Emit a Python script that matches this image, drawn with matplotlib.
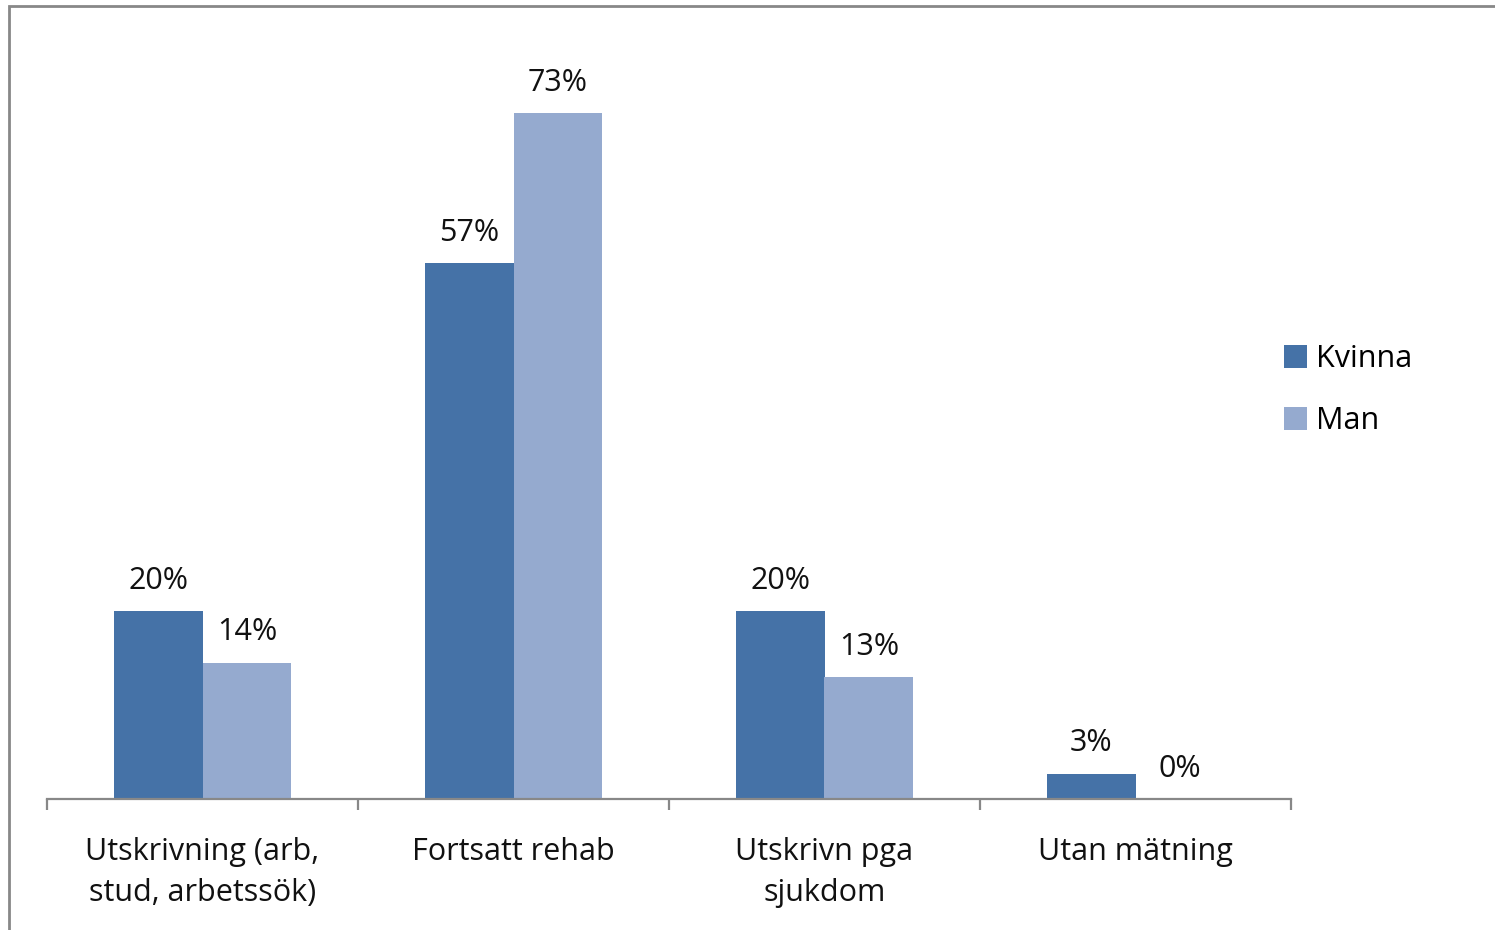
import matplotlib.pyplot as plt
from matplotlib.patches import Rectangle
import numpy as np

# data
categories = ['Utskrivning (arb,\nstud, arbetssök)', 'Fortsatt rehab', 'Utskrivn pga\nsjukdom', 'Utan mätning']
kvinna = [0.20, 0.57, 0.20, 0.027]
man = [0.145, 0.73, 0.13, 0.0]
series = ['Kvinna', 'Man']
colors = ['#4572A7', '#95AACF']

plt.rcParams['font.family'] = ['Open Sans', 'DejaVu Sans']
FS = 22

fig = plt.figure(figsize=(14.95, 9.30), dpi=100)
ax = fig.add_axes([47/1495, 1-799/930, (1291-47)/1495, 752/930])

x = np.arange(len(categories))
w = 0.286
b1 = ax.bar(x - w/2, kvinna, w, color=colors[0], label=series[0])
b2 = ax.bar(x + w/2, man, w, color=colors[1], label=series[1])

for bars, vals in ((b1, kvinna), (b2, man)):
    ax.bar_label(bars, labels=['{:.0f}%'.format(v*100) for v in vals],
                 padding=11, fontsize=FS, color='#111111')

ax.set_xlim(-0.5, len(categories) - 0.5)
ax.set_ylim(0, 0.8)

for s in ['top', 'right', 'left']:
    ax.spines[s].set_visible(False)
ax.spines['bottom'].set_color('#888888')
ax.spines['bottom'].set_linewidth(1.6)
ax.set_yticks([])

ax.set_xticks(x)
ax.set_xticklabels(categories, fontsize=FS, color='#111111', linespacing=1.5)
ax.tick_params(axis='x', which='major', length=0, pad=27)
ax.set_xticks(np.arange(len(categories) + 1) - 0.5, minor=True)
ax.tick_params(axis='x', which='minor', length=8, width=1.6, color='#888888', direction='out')

leg = ax.legend(loc='upper left', bbox_to_anchor=(1272/1495, 1-332/930),
                bbox_transform=fig.transFigure, frameon=False, fontsize=FS,
                handlelength=0.75, handleheight=0.75, handletextpad=0.3,
                labelspacing=1.05, borderaxespad=0)

# outer frame of the chart area
fig.patches.append(Rectangle((9/1495, -0.1), 2, 1.1 - 6/930, transform=fig.transFigure,
                             fill=False, edgecolor='#888888', linewidth=2.0))

fig.savefig('out.png', dpi=100)
